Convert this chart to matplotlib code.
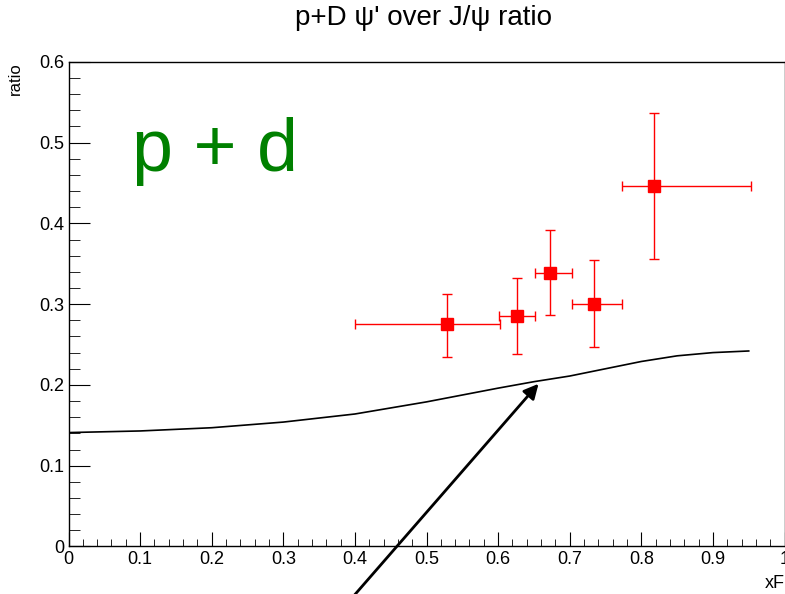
import numpy as np
import matplotlib.pyplot as plt
from matplotlib.ticker import MultipleLocator, FuncFormatter

plt.rcParams['font.family'] = ['Liberation Sans', 'DejaVu Sans']

# --- data ---
xf = [0.529, 0.626, 0.673, 0.734, 0.817]
xf_lo = [0.400, 0.601, 0.652, 0.703, 0.773]
xf_hi = [0.603, 0.652, 0.703, 0.773, 0.953]
ratio = [0.276, 0.285, 0.339, 0.300, 0.446]
ratio_lo = [0.234, 0.238, 0.286, 0.247, 0.356]
ratio_hi = [0.313, 0.332, 0.392, 0.355, 0.537]

# model curve
curve_x = [0.0, 0.1, 0.2, 0.3, 0.4, 0.5, 0.6, 0.65, 0.7, 0.75, 0.8, 0.85, 0.9, 0.95]
curve_y = [0.141, 0.143, 0.147, 0.154, 0.164, 0.179, 0.196, 0.204, 0.211, 0.220, 0.229, 0.236, 0.240, 0.242]

xerr = [np.subtract(xf, xf_lo), np.subtract(xf_hi, xf)]
yerr = [np.subtract(ratio, ratio_lo), np.subtract(ratio_hi, ratio)]

fig = plt.figure(figsize=(7.85, 5.94), dpi=100)
ax = fig.add_axes([0.0873, 0.080, 0.9121, 0.816])

ax.plot(curve_x, curve_y, color='black', lw=1.2)
ax.errorbar(xf, ratio, xerr=xerr, yerr=yerr, fmt='s', color='red', ms=8,
            elinewidth=1, capsize=3.5, capthick=1)

ax.annotate('', xy=(0.659, 0.204), xytext=(0.37, -0.09),
            arrowprops=dict(arrowstyle='-|>', color='black', lw=2,
                            mutation_scale=22),
            annotation_clip=False)

ax.text(0.088, 0.465, 'p + d', color='#008000', fontsize=53)

ax.set_xlim(0, 1)
ax.set_ylim(0, 0.6)
fmt = FuncFormatter(lambda v, pos: f'{round(v, 2):g}')
ax.xaxis.set_major_locator(MultipleLocator(0.1))
ax.xaxis.set_minor_locator(MultipleLocator(0.02))
ax.yaxis.set_major_locator(MultipleLocator(0.1))
ax.yaxis.set_minor_locator(MultipleLocator(0.02))
ax.xaxis.set_major_formatter(fmt)
ax.yaxis.set_major_formatter(fmt)
ax.tick_params(axis='x', which='major', direction='in', length=10, labelsize=13, pad=3)
ax.tick_params(axis='x', which='minor', direction='in', length=5)
ax.tick_params(axis='y', which='major', direction='in', length=15, labelsize=13, pad=3)
ax.tick_params(axis='y', which='minor', direction='in', length=8)
for s in ax.spines.values():
    s.set_linewidth(1)

ax.set_xlabel('xF', fontsize=13, loc='right', labelpad=5)
ax.set_ylabel('ratio', fontsize=12, loc='top', labelpad=12)

fig.suptitle("p+D \u03c8' over J/\u03c8 ratio", fontsize=20, x=0.54, y=0.992)

fig.savefig('out.png', dpi=100)
